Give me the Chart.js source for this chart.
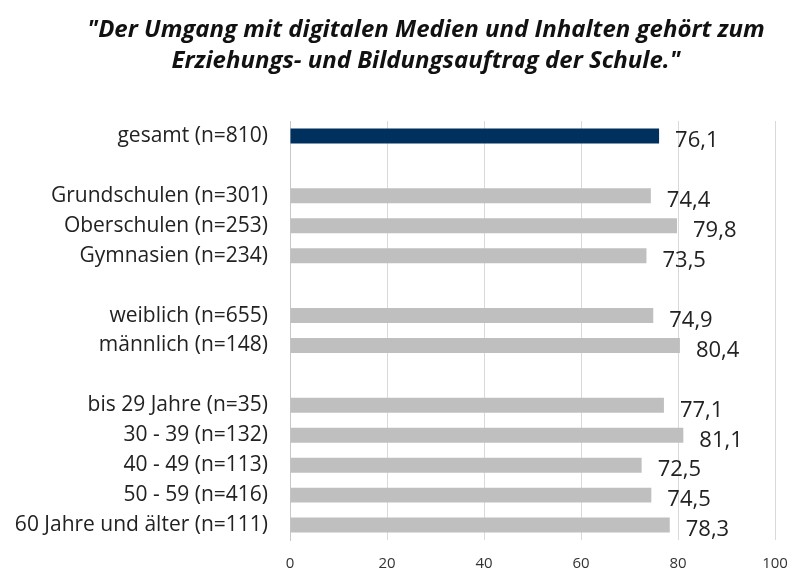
<!DOCTYPE html>
<html>
<head>
<meta charset="utf-8">
<script src="https://cdn.jsdelivr.net/npm/chart.js@4"></script>
<style>
  html, body { margin: 0; padding: 0; background: #fff; }
  #wrap { width: 792px; height: 569px; }
</style>
</head>
<body>
<div id="wrap"><canvas id="resultsChart"></canvas></div>
<script>
'use strict';

// leere Kategorien ('') sind die Abstaende zwischen den Gruppen
let categories = [
  'gesamt (n=810)', '',
  'Grundschulen (n=301)', 'Oberschulen (n=253)', 'Gymnasien (n=234)', '',
  'weiblich (n=655)', 'männlich (n=148)', '',
  'bis 29 Jahre (n=35)', '30 - 39 (n=132)', '40 - 49 (n=113)', '50 - 59 (n=416)', '60 Jahre und älter (n=111)'
];
let values = [76.1, null, 74.4, 79.8, 73.5, null, 74.9, 80.4, null, 77.1, 81.1, 72.5, 74.5, 78.3];
let xTicks = [0, 20, 40, 60, 80, 100];
let titleLines = [
  '"Der Umgang mit digitalen Medien und Inhalten gehört zum',
  'Erziehungs- und Bildungsauftrag der Schule."'
];

let barColors = values.map(function (v, i) {
  return i === 0 ? '#00305e' : '#bfbfbf';
});

let chartEl = document.getElementById('resultsChart');
let ctx = chartEl.getContext('2d');

let titlePlugin = {
  id: 'titleText',
  afterDraw: function (chart) {
    let c = chart.ctx;
    c.save();
    c.font = 'italic bold 24px "Open Sans"';
    c.fillStyle = '#111';
    c.textAlign = 'center';
    c.textBaseline = 'middle';
    c.fillText(titleLines[0], 426, 30);
    c.fillText(titleLines[1], 426, 61);
    c.restore();
  }
};

let valueLabels = {
  id: 'valueLabels',
  afterDatasetsDraw: function (chart) {
    let c = chart.ctx;
    let meta = chart.getDatasetMeta(0);
    c.save();
    c.font = '22px "Open Sans"';
    c.fillStyle = '#222';
    c.textAlign = 'left';
    c.textBaseline = 'middle';
    meta.data.forEach(function (bar, i) {
      if (values[i] === null) return;
      c.fillText(values[i].toFixed(1).replace('.', ','), bar.x + 16, bar.y + 5);
    });
    c.restore();
  }
};

new Chart(ctx, {
  type: 'bar',
  data: {
    labels: categories,
    datasets: [{
      data: values,
      backgroundColor: barColors,
      barPercentage: 0.5,
      categoryPercentage: 1.0
    }]
  },
  options: {
    indexAxis: 'y',
    responsive: true,
    maintainAspectRatio: false,
    animation: false,
    layout: { padding: { top: 121, right: 17, bottom: 0, left: 0 } },
    plugins: {
      legend: { display: false },
      title: { display: false },
      tooltip: { enabled: false }
    },
    scales: {
      x: {
        min: 0,
        max: 100,
        afterBuildTicks: function (axis) {
          axis.ticks = xTicks.map(function (v) { return { value: v }; });
        },
        afterFit: function (axis) {
          axis.height = 29;
          axis.paddingLeft = 0;
          axis.paddingRight = 0;
        },
        grid: { color: '#d9d9d9', drawTicks: false },
        border: { display: false },
        ticks: {
          padding: 15,
          color: '#333',
          font: { family: 'Open Sans', size: 15 }
        }
      },
      y: {
        afterFit: function (axis) {
          axis.width = 290;
          axis.paddingTop = 0;
          axis.paddingBottom = 0;
        },
        grid: { display: false, drawTicks: false },
        border: { display: true, color: '#c8c8c8', width: 1 },
        ticks: {
          padding: 22,
          autoSkip: false,
          color: '#222',
          font: { family: 'Open Sans', size: 21 }
        }
      }
    }
  },
  plugins: [titlePlugin, valueLabels]
});
</script>
</body>
</html>
